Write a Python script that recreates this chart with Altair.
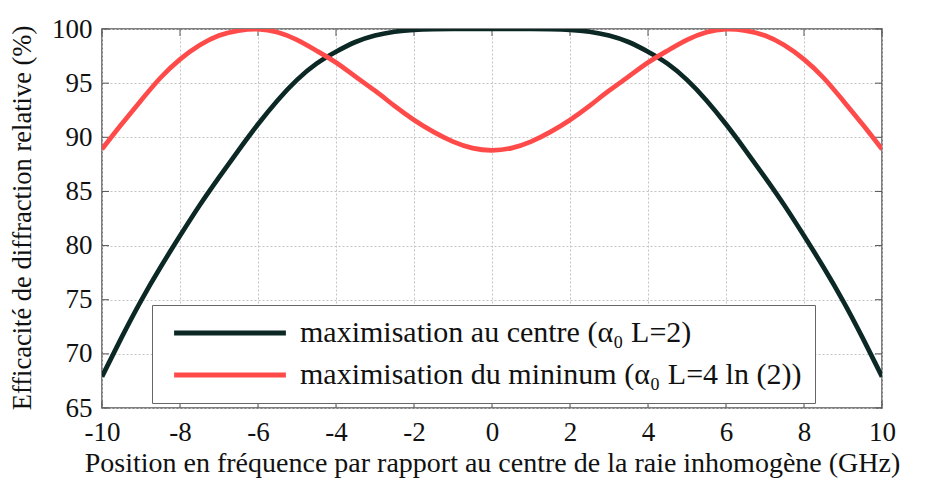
import altair as alt
import pandas as pd

# ---- data ----
x_vals = [-10, -9.5, -9, -8.5, -8, -7.5, -7, -6.5, -6, -5.5, -5, -4.5, -4, -3.5, -3, -2.5, -2, -1.5, -1, -0.5,
          0, 0.5, 1, 1.5, 2, 2.5, 3, 3.5, 4, 4.5, 5, 5.5, 6, 6.5, 7, 7.5, 8, 8.5, 9, 9.5, 10]
centre_vals = [67.9, 71.5, 74.9, 78.0, 80.9, 83.7, 86.3, 88.8, 91.2, 93.4, 95.3, 96.8, 97.9, 98.8, 99.4, 99.75,
               99.92, 99.98, 100.0, 100.0,
               100.0,
               100.0, 100.0, 99.98, 99.92, 99.75, 99.4, 98.8, 97.9, 96.8, 95.3, 93.4, 91.2, 88.8, 86.3, 83.7,
               80.9, 78.0, 74.9, 71.5, 67.9]
minimum_vals = [88.9, 91.2, 93.4, 95.5, 97.2, 98.5, 99.4, 99.85, 99.98, 99.7, 99.0, 98.0, 96.9, 95.6, 94.3, 92.9,
                91.6, 90.5, 89.6, 89.0,
                88.8,
                89.0, 89.6, 90.5, 91.6, 92.9, 94.3, 95.6, 96.9, 98.0, 99.0, 99.7, 99.98, 99.85, 99.4, 98.5,
                97.2, 95.5, 93.4, 91.2, 88.9]
series_names = ["maximisation au centre (\u03b1\u2080 L=2)",
                "maximisation du mininum (\u03b1\u2080 L=4 ln (2))"]
series_colors = ["#0b2824", "#ff4a4a"]
x_ticks = [-10, -8, -6, -4, -2, 0, 2, 4, 6, 8, 10]
y_ticks = [65, 70, 75, 80, 85, 90, 95, 100]

x_title = "Position en fréquence par rapport au centre de la raie inhomogène (GHz)"
y_title = "Efficacité de diffraction relative (%)"

W, H = 780, 379
FONT = "Liberation Serif"

rows = []
for name, vals in zip(series_names, [centre_vals, minimum_vals]):
    for xv, yv in zip(x_vals, vals):
        rows.append({"x": xv, "y": yv, "serie": name})
df = pd.DataFrame(rows)

xscale = alt.Scale(domain=[-10, 10], nice=False, zero=False)
yscale = alt.Scale(domain=[65, 100], nice=False, zero=False)

lines = alt.Chart(df).mark_line(strokeWidth=4.7, interpolate="natural", clip=True).encode(
    x=alt.X("x:Q", scale=xscale,
            axis=alt.Axis(title=x_title, values=x_ticks, ticks=False, domain=False,
                          grid=True, gridColor="#c4c4c4", gridDash=[2, 2], gridWidth=1,
                          labelExpr="datum.value + ''",
                          labelFont=FONT, labelFontSize=27, labelColor="#111", labelPadding=11,
                          labelFlush=False,
                          titleFont=FONT, titleFontSize=28, titleFontWeight="normal", titleColor="#111",
                          titleY=55, titleBaseline="middle")),
    y=alt.Y("y:Q", scale=yscale,
            axis=alt.Axis(title=y_title, values=y_ticks, ticks=False, domain=False,
                          grid=True, gridColor="#c4c4c4", gridDash=[2, 2], gridWidth=1,
                          labelFont=FONT, labelFontSize=27, labelColor="#111", labelPadding=10,
                          labelFlush=False,
                          titleFont=FONT, titleFontSize=26.5, titleFontWeight="normal", titleColor="#111",
                          titleX=-80, titleY=H / 2 - 1, titleAngle=-90, titleBaseline="middle")),
    color=alt.Color("serie:N", scale=alt.Scale(domain=series_names, range=series_colors),
                    legend=alt.Legend(title=None, orient="none", legendX=50, legendY=276,
                                      symbolType="M-5,0L5,0", symbolSize=500, symbolStrokeWidth=5,
                                      symbolOffset=50, labelOffset=55,
                                      labelExpr="datum.label + '\u00a0\u00a0\u00a0\u00a0\u00a0\u00a0\u00a0'",
                                      labelFont=FONT, labelFontSize=30, labelColor="#111",
                                      labelLimit=800, rowPadding=12, padding=13,
                                      strokeColor="#666", fillColor="white")),
)

xt = pd.DataFrame({"x": x_ticks})
yt = pd.DataFrame({"y": y_ticks})
tick_color = "#555"
tb = alt.Chart(xt).mark_rule(color=tick_color, strokeWidth=1).encode(
    x=alt.X("x:Q", scale=xscale), y=alt.value(H), y2=alt.value(H - 7))
tt = alt.Chart(xt).mark_rule(color=tick_color, strokeWidth=1).encode(
    x=alt.X("x:Q", scale=xscale), y=alt.value(0), y2=alt.value(7))
tl = alt.Chart(yt).mark_rule(color=tick_color, strokeWidth=1).encode(
    y=alt.Y("y:Q", scale=yscale), x=alt.value(0), x2=alt.value(7))
tr = alt.Chart(yt).mark_rule(color=tick_color, strokeWidth=1).encode(
    y=alt.Y("y:Q", scale=yscale), x=alt.value(W), x2=alt.value(W - 7))

chart = alt.layer(tl, tr, tb, tt, lines).properties(
    width=W, height=H,
    autosize=alt.AutoSizeParams(type="none"),
    padding={"left": 94, "top": 21, "right": 27, "bottom": 72},
    background="white",
).configure_view(stroke="#555", strokeWidth=1.5)

chart.save("out.html", embed_options={"renderer": "svg", "actions": False})
